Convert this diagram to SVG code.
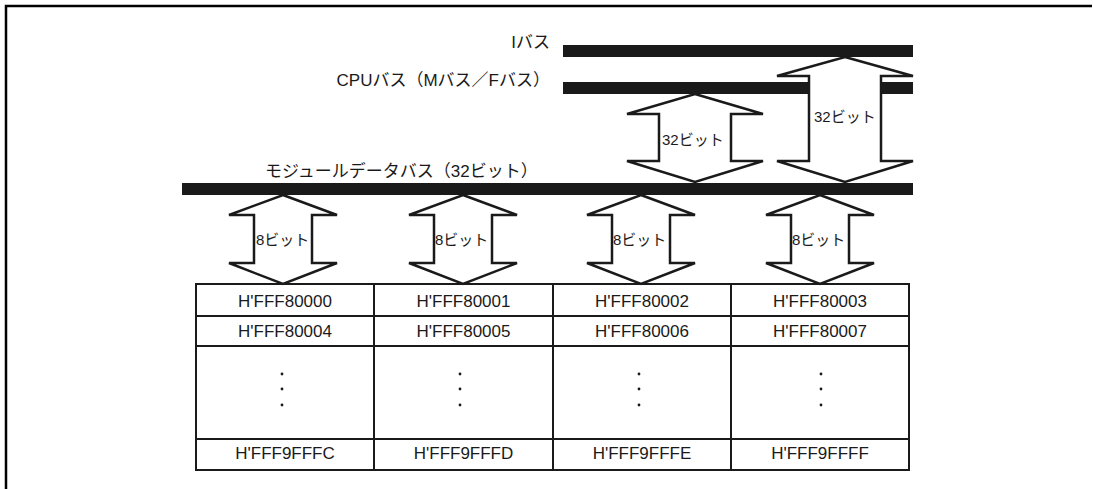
<svg xmlns="http://www.w3.org/2000/svg" width="1093" height="489" viewBox="0 0 1093 489">
<style>
text{font-family:"Liberation Sans","Noto Sans CJK JP",sans-serif;fill:#1a1a1a}
.lbl{font-size:17px}
.sm{font-size:15px}
.cell{font-size:17px;text-anchor:middle}
.bus{fill:#1a1a1a}
.arr{fill:#fff;stroke:#1a1a1a;stroke-width:2.5;stroke-linejoin:miter}
.tbl{fill:none;stroke:#1a1a1a;stroke-width:2}
.dot{fill:#1a1a1a}
</style>
<path d="M6,489 V6 H1092" fill="none" stroke="#000" stroke-width="2.5"/>
<g id="ibus">
<rect class="bus" x="563" y="45" width="350" height="12"/>
<text class="lbl" x="550" y="48" text-anchor="end">Iバス</text>
</g>
<g id="cpubus">
<rect class="bus" x="563" y="82" width="350" height="12"/>
<text class="lbl" x="550" y="86" text-anchor="end">CPUバス（Mバス／Fバス）</text>
</g>
<g id="modbus">
<rect class="bus" x="182" y="183" width="731" height="12"/>
<text class="lbl" x="265" y="177">モジュールデータバス（32ビット）</text>
</g>
<g id="connectors">
<g id="arrow-cpu">
<polygon class="arr" points="695,94 763,114 731,114 731,161 763,161 695,182 627,161 659,161 659,114 627,114"/>
<text class="sm" x="662" y="145">32ビット</text>
</g>
<g id="arrow-i">
<polygon class="arr" points="845,57 913,76 881,76 881,161 913,161 845,182 777,161 809,161 809,76 777,76"/>
<text class="sm" x="814" y="122">32ビット</text>
</g>
<g id="arrow-b0">
<polygon class="arr" points="283,195 337,215 312,215 312,263 337,263 283,284 229,263 254,263 254,215 229,215"/>
<text class="sm" x="256" y="245">8ビット</text>
</g>
<g id="arrow-b1">
<polygon class="arr" points="463,195 517,215 492,215 492,263 517,263 463,284 409,263 434,263 434,215 409,215"/>
<text class="sm" x="435" y="245">8ビット</text>
</g>
<g id="arrow-b2">
<polygon class="arr" points="641,195 695,215 670,215 670,263 695,263 641,284 587,263 612,263 612,215 587,215"/>
<text class="sm" x="613" y="245">8ビット</text>
</g>
<g id="arrow-b3">
<polygon class="arr" points="820,195 874,215 849,215 849,263 874,263 820,284 766,263 791,263 791,215 766,215"/>
<text class="sm" x="792" y="245">8ビット</text>
</g>
</g>
<g id="memtable">
<rect class="tbl" x="196" y="284" width="713" height="186"/>
<path class="tbl" d="M196,316 H909 M196,346 H909 M196,439 H909 M374,284 V470 M553,284 V470 M731,284 V470"/>
<text class="cell" x="285" y="307">H'FFF80000</text>
<text class="cell" x="463.5" y="307">H'FFF80001</text>
<text class="cell" x="642" y="307">H'FFF80002</text>
<text class="cell" x="820" y="307">H'FFF80003</text>
<text class="cell" x="285" y="337">H'FFF80004</text>
<text class="cell" x="463.5" y="337">H'FFF80005</text>
<text class="cell" x="642" y="337">H'FFF80006</text>
<text class="cell" x="820" y="337">H'FFF80007</text>
<g class="dots">
<circle class="dot" cx="282" cy="374" r="1.4"/><circle class="dot" cx="282" cy="389" r="1.4"/><circle class="dot" cx="282" cy="405" r="1.4"/>
<circle class="dot" cx="460" cy="374" r="1.4"/><circle class="dot" cx="460" cy="389" r="1.4"/><circle class="dot" cx="460" cy="405" r="1.4"/>
<circle class="dot" cx="639" cy="374" r="1.4"/><circle class="dot" cx="639" cy="389" r="1.4"/><circle class="dot" cx="639" cy="405" r="1.4"/>
<circle class="dot" cx="821" cy="374" r="1.4"/><circle class="dot" cx="821" cy="389" r="1.4"/><circle class="dot" cx="821" cy="405" r="1.4"/>
</g>
<text class="cell" x="285" y="459">H'FFF9FFFC</text>
<text class="cell" x="463.5" y="459">H'FFF9FFFD</text>
<text class="cell" x="642" y="459">H'FFF9FFFE</text>
<text class="cell" x="820" y="459">H'FFF9FFFF</text>
</g>
</svg>
